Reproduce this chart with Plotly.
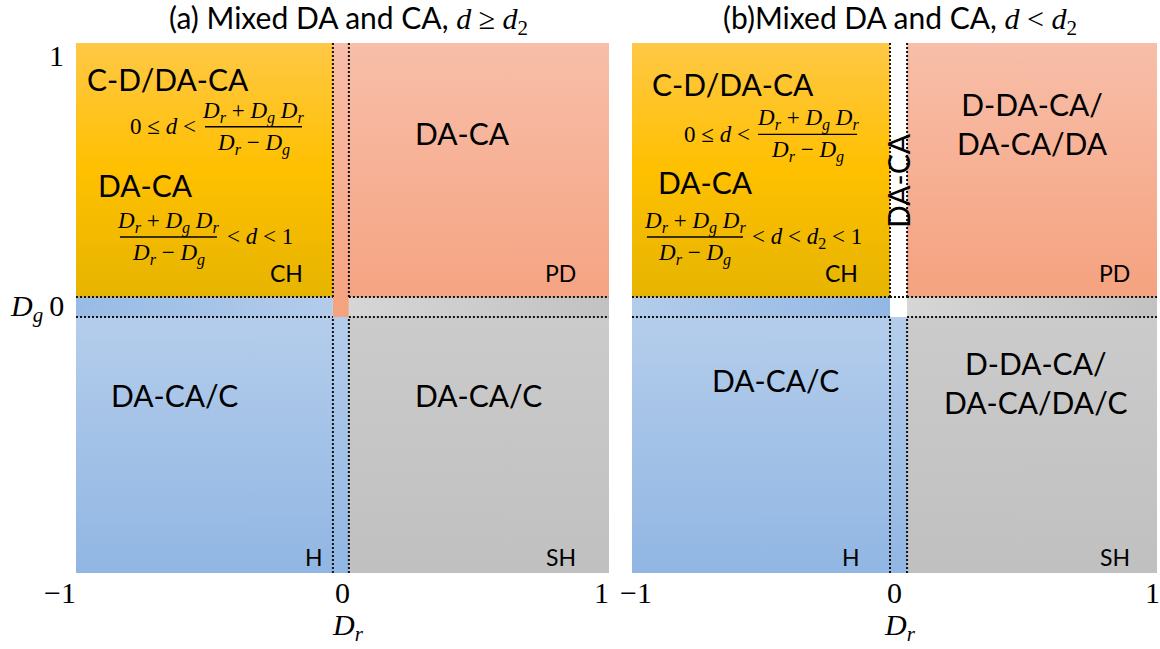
import plotly.graph_objects as go

# ---- data ---------------------------------------------------------------
X_RANGE = [-1, 1]
Y_RANGE = [-1, 1]
X_TICKS = [-1, 0, 1]
X_TICK_TEXT = ["\u22121", "0", "1"]
Y_TICKS = [1, 0]
Y_TICK_TEXT = ["1", "<i>D</i><sub><i>g</i></sub>\u20090"]

# edges of the narrow band around D_r = 0 (one pair per panel) and D_g = 0
DR_BAND_A = [-0.036, 0.024]
DR_BAND_B = [-0.017, 0.048]
DG_BAND = [-0.034, 0.042]

PANEL_TITLES = [
    "(a) Mixed DA and CA, <span style='font-family:Liberation Serif'><i>d</i> \u2265 <i>d</i><sub>2</sub></span>",
    "(b)Mixed DA and CA, <span style='font-family:Liberation Serif'><i>d</i> &lt; <i>d</i><sub>2</sub></span>",
]

# game names printed in the corners of the quadrants
GAME_NAMES = ["CH", "PD", "H", "SH"]

# gradient colours, bottom -> top (or left -> right for the thin bands)
YELLOW = ["#E6B400", "#FFC000", "#FFC846"]
SALMON = ["#F5A27F", "#F8BEA9"]
BLUE = ["#91B6E3", "#B4CDEB"]
GRAY = ["#C0C0C0", "#CBCBCB"]
BLUE_BAND_A = ["#98BBE5", "#B3CCEA"]
BLUE_BAND_B = ["#B3CCEA", "#93B7E4"]
GRAY_BAND = ["#D6D6D6", "#C2C2C2"]

SANS = "Lato"
SERIF = "Liberation Serif"
MATH_SIZE = 23

fig = go.Figure()

DOMAINS_X = [[0.0655, 0.5250], [0.5448, 0.9974]]
DOMAIN_Y = [0.1171, 0.9337]


def scale(colors):
    n = len(colors) - 1
    return [[i / n, c] for i, c in enumerate(colors)]


def region(xs, ys, colors, ax, kind="vertical"):
    fig.add_trace(go.Scatter(
        x=xs + [xs[0]], y=ys + [ys[0]], fill="toself", mode="lines",
        line=dict(width=0), fillgradient=dict(type=kind, colorscale=scale(colors)),
        hoverinfo="skip", showlegend=False, xaxis="x" + ax, yaxis="y" + ax))


def dotted(ax, x0, y0, x1, y1):
    fig.add_shape(type="line", xref="x" + ax, yref="y" + ax, x0=x0, y0=y0, x1=x1, y1=y1,
                  line=dict(color="#111111", width=2, dash="2px,2px"), layer="above")


def label(ax, x, y, text, size, anchor="center", family=SANS, angle=0):
    fig.add_annotation(xref="x" + ax, yref="y" + ax, x=x, y=y, text=text, showarrow=False,
                       xanchor=anchor, yanchor="middle", textangle=angle,
                       font=dict(family=family, size=size, color="black"))


def fraction(ax, xc, yl, width, num, den, size=MATH_SIZE):
    fig.add_shape(type="line", xref="x" + ax, yref="y" + ax, x0=xc - width / 2, x1=xc + width / 2,
                  y0=yl, y1=yl, line=dict(color="black", width=1.3), layer="above")
    for txt, anc, shift in [(num, "bottom", -2), (den, "top", -1)]:
        fig.add_annotation(xref="x" + ax, yref="y" + ax, x=xc, y=yl, text=txt, showarrow=False,
                           xanchor="center", yanchor=anc, yshift=shift,
                           font=dict(family=SERIF, size=size, color="black"))


NUM = "<i>D</i><sub><i>r</i></sub> + <i>D</i><sub><i>g</i></sub> <i>D</i><sub><i>r</i></sub>"
DEN = "<i>D</i><sub><i>r</i></sub> \u2212 <i>D</i><sub><i>g</i></sub>"

for k, (ax, band) in enumerate([("", DR_BAND_A), ("2", DR_BAND_B)]):
    xa, xb = band
    ylo, yhi = DG_BAND
    x0, x1 = X_RANGE
    y0, y1 = Y_RANGE
    # chicken (CH) quadrant
    region([x0, xa, xa, x0], [yhi, yhi, y1, y1], YELLOW, ax)
    # prisoner's dilemma (PD) quadrant; in (a) it also fills the D_r band
    if k == 0:
        region([xa, xb, xb, x1, x1, xa], [ylo, ylo, yhi, yhi, y1, y1], SALMON, ax)
    else:
        region([xb, x1, x1, xb], [yhi, yhi, y1, y1], SALMON, ax)
    # thin bands along D_g = 0
    region([x0, xa, xa, x0], [ylo, ylo, yhi, yhi], BLUE_BAND_A if k == 0 else BLUE_BAND_B, ax, "horizontal")
    region([xb, x1, x1, xb], [ylo, ylo, yhi, yhi], GRAY_BAND, ax, "horizontal")
    # harmony (H) and stag hunt (SH)
    region([x0, xb, xb, x0], [y0, y0, ylo, ylo], BLUE, ax)
    region([xb, x1, x1, xb], [y0, y0, ylo, ylo], GRAY, ax)

    # dotted borders
    dotted(ax, x0, yhi, xa, yhi)
    dotted(ax, x0, ylo, xa, ylo)
    dotted(ax, xb, yhi, x1, yhi)
    dotted(ax, xb, ylo, x1, ylo)
    if k == 1:
        dotted(ax, xa, yhi, xb, yhi)
    for xv in (xa, xb):
        dotted(ax, xv, yhi, xv, y1)
        dotted(ax, xv, y0, xv, ylo)

    # axes' tick labels
    for xv, txt in zip(X_TICKS, X_TICK_TEXT):
        shift = {-1: -16 if k == 0 else 4, 0: 0, 1: -8 if k == 0 else -4}[xv]
        fig.add_annotation(xref="x" + ax, yref="y" + ax, x=xv, y=y0, text=txt, showarrow=False,
                           xanchor="center", yanchor="top", yshift=-1, xshift=shift,
                           font=dict(family=SERIF, size=30, color="black"))
    fig.add_annotation(xref="x" + ax, yref="y" + ax, x=0, y=y0, text="<i>D</i><sub><i>r</i></sub>",
                       showarrow=False, xanchor="center", yanchor="top", yshift=-33, xshift=6,
                       font=dict(family=SERIF, size=30, color="black"))
    fig.add_annotation(xref="x" + ax, yref="paper", x=0, y=1 - 19 / 649, text=PANEL_TITLES[k],
                       showarrow=False, xanchor="center", yanchor="middle", xshift=6,
                       font=dict(family=SANS, size=30, color="black"))

# y tick labels on the left panel
fig.add_annotation(xref="x", yref="y", x=-1, y=1, text=Y_TICK_TEXT[0], showarrow=False,
                   xanchor="right", yanchor="middle", xshift=-10, yshift=-12,
                   font=dict(family=SERIF, size=30, color="black"))
fig.add_annotation(xref="x", yref="y", x=-1, y=0, text=Y_TICK_TEXT[1], showarrow=False,
                   xanchor="right", yanchor="middle", xshift=-10,
                   font=dict(family=SERIF, size=30, color="black"))

# ---- panel (a) labels ---------------------------------------------------
label("", -0.655, 0.865, "C-D/DA-CA", 30)
label("", -0.542, 0.684, "0 \u2264 <i>d</i> &lt;", MATH_SIZE, "right", SERIF)
fraction("", -0.334, 0.684, 0.364, NUM, DEN)
label("", -0.741, 0.464, "DA-CA", 30)
fraction("", -0.653, 0.268, 0.364, NUM, DEN)
label("", -0.441, 0.268, "&lt; <i>d</i> &lt; 1", MATH_SIZE, "left", SERIF)
label("", 0.452, 0.660, "DA-CA", 30)
label("", -0.629, -0.330, "DA-CA/C", 30)
label("", 0.509, -0.330, "DA-CA/C", 30)
label("", -0.141, 0.132, GAME_NAMES[0], 23, "right")
label("", 0.884, 0.132, GAME_NAMES[1], 23, "right")
label("", -0.066, -0.940, GAME_NAMES[2], 23, "right")
label("", 0.884, -0.940, GAME_NAMES[3], 23, "right")

# ---- panel (b) labels ---------------------------------------------------
label("2", -0.615, 0.845, "C-D/DA-CA", 30)
label("2", -0.543, 0.655, "0 \u2264 <i>d</i> &lt;", MATH_SIZE, "right", SERIF)
fraction("2", -0.331, 0.655, 0.377, NUM, DEN)
label("2", -0.718, 0.475, "DA-CA", 30)
fraction("2", -0.760, 0.268, 0.366, NUM, DEN)
label("2", -0.550, 0.264, "&lt; <i>d</i> &lt; <i>d</i><sub>2</sub> &lt; 1", MATH_SIZE, "left", SERIF)
label("2", 0.013, 0.483, "DA-CA", 30, angle=-90)
label("2", 0.524, 0.696, "D-DA-CA/<br>DA-CA/DA", 30)
label("2", -0.455, -0.272, "DA-CA/C", 30)
label("2", 0.539, -0.281, "D-DA-CA/<br>DA-CA/DA/C", 30)
label("2", -0.131, 0.132, GAME_NAMES[0], 23, "right")
label("2", 0.905, 0.132, GAME_NAMES[1], 23, "right")
label("2", -0.124, -0.940, GAME_NAMES[2], 23, "right")
label("2", 0.905, -0.940, GAME_NAMES[3], 23, "right")

axis_common = dict(visible=False, fixedrange=True)
fig.update_layout(
    width=1160, height=649, margin=dict(l=0, r=0, t=0, b=0),
    paper_bgcolor="white", plot_bgcolor="white", showlegend=False,
    xaxis=dict(domain=DOMAINS_X[0], range=X_RANGE, **axis_common),
    yaxis=dict(domain=DOMAIN_Y, range=Y_RANGE, **axis_common),
    xaxis2=dict(domain=DOMAINS_X[1], range=X_RANGE, anchor="y2", **axis_common),
    yaxis2=dict(domain=DOMAIN_Y, range=Y_RANGE, anchor="x2", **axis_common),
)

fig.write_html("out.html")
